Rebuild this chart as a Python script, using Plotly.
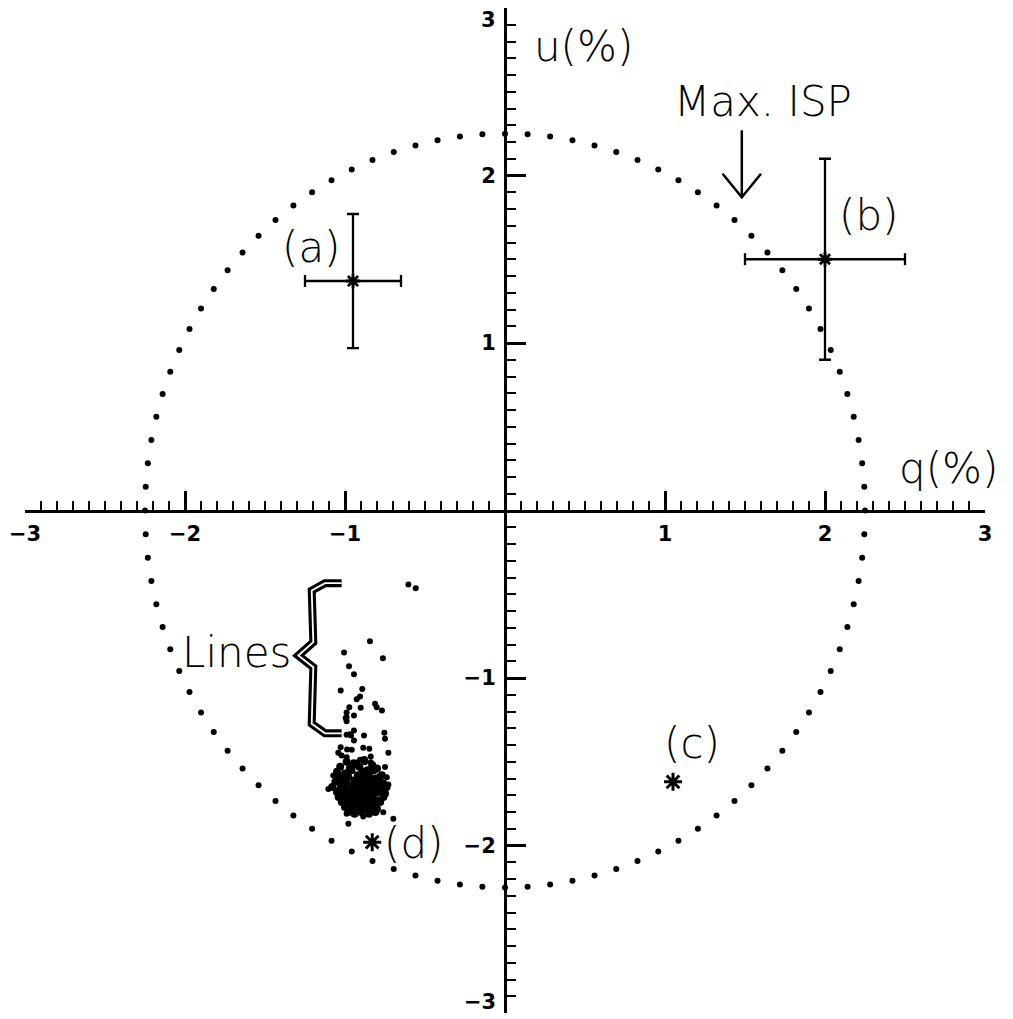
import numpy as np
import plotly.graph_objects as go

# ---------------- data ----------------
AXIS_RANGE = [-3, 3]
X_TICK_VALUES = [-3, -2, -1, 1, 2, 3]
X_TICK_TEXT = ["−3", "−2", "−1", "1", "2", "3"]
Y_TICK_VALUES = [-3, -2, -1, 1, 2, 3]
Y_TICK_TEXT = ["", "−2", "−1", "1", "2", ""]   # end labels drawn separately (offset inward)
Y_END_LABELS = [("3", 3), ("−3", -3)]

# Max ISP circle (model): radius in %, number of dots
CIRCLE_RADIUS = 2.25
CIRCLE_N = 100

# continuum points with error bars
cont_labels = ["(a)", "(b)"]
cont_q = [-0.95, 2.0]
cont_u = [1.37, 1.50]
cont_q_err = [0.30, 0.50]
cont_u_err = [0.40, 0.60]

# other points (asterisks)
pt_labels = ["(c)", "(d)"]
pt_q = [1.05, -0.83]
pt_u = [-1.62, -1.98]

# line polarization points (sparse part)
lines_q = [-0.604, -0.558, -0.844, -1.006, -0.763, -0.975, -0.944, -1.027, -0.892, -0.906,
           -0.927, -0.902, -0.973, -0.812, -0.802, -0.769, -0.990, -0.990, -0.990, -0.944,
           -0.944, -0.990, -0.962, -0.881, -0.754, -0.750, -0.944, -1.027, -0.958, -0.886,
           -0.848, -0.729, -1.042, -1.021, -0.990, -0.948, -0.906, -0.875, -0.839, -0.839,
           -0.750, -0.729, -0.739, -1.104, -1.073, -0.990, -0.948, -0.886, -0.812, -0.761,
           -0.979, -0.698, -0.996, -0.969, -0.987]
lines_u = [-0.442, -0.464, -0.780, -0.848, -0.882, -0.930, -0.977, -1.075, -1.065, -1.110,
           -1.127, -1.178, -1.174, -1.154, -1.174, -1.194, -1.206, -1.234, -1.258, -1.224,
           -1.313, -1.339, -1.343, -1.343, -1.327, -1.363, -1.373, -1.413, -1.429, -1.417,
           -1.423, -1.447, -1.447, -1.463, -1.473, -1.503, -1.488, -1.503, -1.469, -1.503,
           -1.532, -1.636, -1.592, -1.662, -1.582, -1.811, -1.811, -1.827, -1.801, -1.801,
           -1.870, -1.841, -1.239, -1.336, -1.427]

# line polarization points (dense core)
core_q = [-0.99, -0.93, -0.88, -0.83,
          -1.03, -0.97, -0.95, -0.91, -0.86, -0.80,
          -1.05, -1.00, -0.96, -0.92, -0.89, -0.85, -0.82, -0.77,
          -1.04, -1.01, -0.98, -0.94, -0.91, -0.88, -0.84, -0.81, -0.78,
          -1.06, -1.02, -0.99, -0.95, -0.92, -0.89, -0.86, -0.83, -0.80, -0.76,
          -1.08, -1.03, -1.00, -0.97, -0.93, -0.90, -0.87, -0.84, -0.81, -0.77, -0.74,
          -1.05, -1.01, -0.98, -0.95, -0.91, -0.88, -0.85, -0.82, -0.79, -0.75,
          -1.04, -1.00, -0.97, -0.94, -0.90, -0.87, -0.83, -0.80, -0.76,
          -1.02, -0.99, -0.95, -0.92, -0.89, -0.86, -0.82, -0.78,
          -1.00, -0.96, -0.93, -0.90, -0.87, -0.84, -0.80,
          -0.98, -0.94, -0.90, -0.85, -0.81]
core_u = [-1.50, -1.51, -1.49, -1.52,
          -1.53, -1.54, -1.52, -1.53, -1.55, -1.54,
          -1.56, -1.57, -1.55, -1.58, -1.56, -1.57, -1.55, -1.58,
          -1.59, -1.60, -1.59, -1.61, -1.60, -1.59, -1.61, -1.60, -1.59,
          -1.62, -1.63, -1.62, -1.64, -1.63, -1.62, -1.63, -1.64, -1.62, -1.63,
          -1.65, -1.66, -1.65, -1.67, -1.66, -1.65, -1.66, -1.67, -1.65, -1.66, -1.65,
          -1.68, -1.69, -1.68, -1.70, -1.69, -1.68, -1.70, -1.69, -1.68, -1.69,
          -1.71, -1.72, -1.71, -1.73, -1.72, -1.71, -1.72, -1.73, -1.71,
          -1.74, -1.75, -1.74, -1.76, -1.75, -1.74, -1.75, -1.74,
          -1.77, -1.78, -1.77, -1.79, -1.78, -1.77, -1.78,
          -1.80, -1.81, -1.80, -1.81, -1.80]

# brace next to "Lines" label
brace_q = [-1.021, -1.125, -1.208, -1.198, -1.292, -1.198, -1.208, -1.125, -1.021]
brace_u = [-0.434, -0.434, -0.478, -0.786, -0.866, -0.936, -1.273, -1.330, -1.330]

# Max ISP arrow (tail, tip)
arrow_q = 1.48
arrow_u = [2.27, 1.87]

# ---------------- figure ----------------
TEXT_FONT = dict(family="DejaVu Sans ExtraLight, DejaVu Sans Light, DejaVu Sans", size=42, color="black")
TICK_FONT = dict(family="DejaVu Sans", size=21, color="black", weight="bold")

fig = go.Figure()

theta = np.arange(CIRCLE_N) * 2 * np.pi / CIRCLE_N
fig.add_trace(go.Scatter(
    x=CIRCLE_RADIUS * np.cos(theta), y=CIRCLE_RADIUS * np.sin(theta),
    mode="markers", marker=dict(size=6, color="black"), hoverinfo="skip"))

fig.add_trace(go.Scatter(
    x=lines_q, y=lines_u, mode="markers",
    marker=dict(size=6, color="black")))
fig.add_trace(go.Scatter(
    x=core_q, y=core_u, mode="markers",
    marker=dict(size=8, color="black")))

fig.add_trace(go.Scatter(
    x=cont_q, y=cont_u, mode="markers",
    marker=dict(symbol="asterisk-open", size=12, color="black", line=dict(width=2.8, color="black")),
    error_x=dict(type="data", array=cont_q_err, color="black", thickness=2.3, width=6),
    error_y=dict(type="data", array=cont_u_err, color="black", thickness=2.3, width=6)))

fig.add_trace(go.Scatter(
    x=pt_q, y=pt_u, mode="markers",
    marker=dict(symbol="asterisk-open", size=15, color="black", line=dict(width=3, color="black"))))

# brace (double line look)
brace_path = "M " + " L ".join(f"{q},{u}" for q, u in zip(brace_q, brace_u))
fig.add_shape(type="path", path=brace_path, xref="x", yref="y", line=dict(color="black", width=8))
fig.add_shape(type="path", path=brace_path, xref="x", yref="y", line=dict(color="white", width=1.8))

# arrow
fig.add_shape(type="line", xref="x", yref="y", x0=arrow_q, x1=arrow_q, y0=arrow_u[0], y1=arrow_u[1],
              line=dict(color="black", width=2.5))
fig.add_shape(type="path", xref="x", yref="y",
              path=f"M {arrow_q-0.12},{arrow_u[1]+0.14} L {arrow_q},{arrow_u[1]} L {arrow_q+0.12},{arrow_u[1]+0.14}",
              line=dict(color="black", width=2.5))

annotations = [
    ("u(%)", 0.49, 2.77),
    ("q(%)", 2.77, 0.25),
    ("Max. ISP", 1.61, 2.44),
    ("(a)", -1.21, 1.57),
    ("(b)", 2.27, 1.76),
    ("(c)", 1.17, -1.39),
    ("(d)", -0.57, -1.99),
    ("Lines", -1.68, -0.85),
]
for text, x, y in annotations:
    fig.add_annotation(x=x, y=y, text=text, showarrow=False, font=TEXT_FONT,
                       xanchor="center", yanchor="middle")

# y-axis end labels, nudged inward like the reference
for text, y in Y_END_LABELS:
    fig.add_annotation(x=0, y=y, text=text, showarrow=False, font=TICK_FONT,
                       xanchor="right", xshift=-7,
                       yanchor="top" if y > 0 else "bottom", yshift=2 if y > 0 else -3)

axis_common = dict(
    range=AXIS_RANGE, anchor="free", position=0.5,
    showline=True, linewidth=3, linecolor="black",
    ticks="inside", ticklen=19, tickwidth=3, tickcolor="black",
    tickfont=TICK_FONT, ticklabeloverflow="allow",
    showgrid=False, zeroline=False, automargin=False,
    minor=dict(ticks="inside", dtick=0.1, tick0=0, ticklen=9, tickwidth=2, tickcolor="black", showgrid=False),
)
fig.update_xaxes(**axis_common, side="bottom", ticklabelstandoff=3,
                 tickvals=X_TICK_VALUES, ticktext=X_TICK_TEXT)
fig.update_yaxes(**axis_common, side="left", ticklabelstandoff=4,
                 tickvals=Y_TICK_VALUES, ticktext=Y_TICK_TEXT)

fig.update_layout(
    width=1005, height=1011,
    margin=dict(l=17, r=28, t=0, b=6),
    plot_bgcolor="white", paper_bgcolor="white",
    showlegend=False,
)

fig.write_html("out.html")
